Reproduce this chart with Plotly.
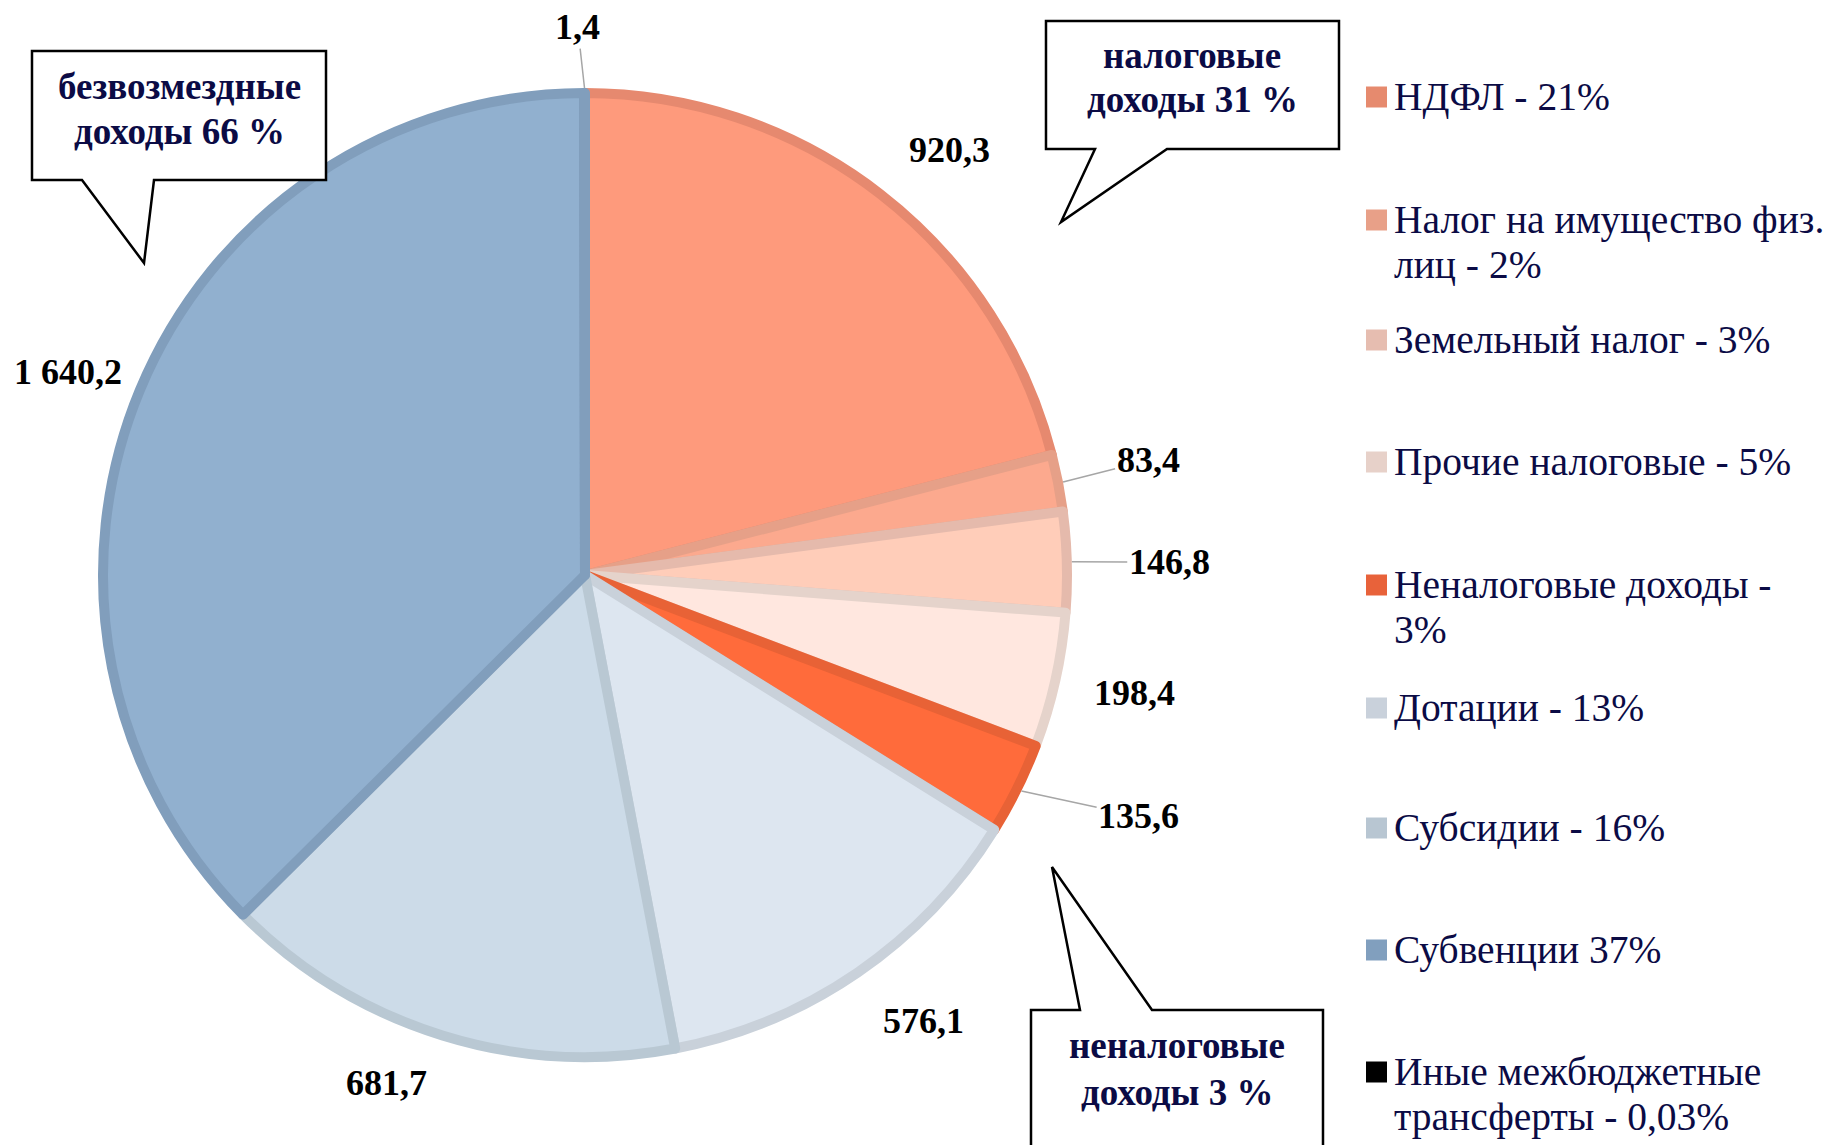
import math
import plotly.graph_objects as go

W, H = 1833, 1145
OFF = 8  # page body margin, pixels

# data
categories = ["НДФЛ", "Налог на имущество физ. лиц", "Земельный налог", "Прочие налоговые",
              "Неналоговые доходы", "Дотации", "Субсидии", "Субвенции",
              "Иные межбюджетные трансферты"]
values = [920.3, 83.4, 146.8, 198.4, 135.6, 576.1, 681.7, 1640.2, 1.4]
legend_labels = [["НДФЛ - 21%"], ["Налог на имущество физ.", "лиц - 2%"], ["Земельный налог - 3%"],
                 ["Прочие налоговые - 5%"], ["Неналоговые доходы -", "3%"], ["Дотации - 13%"],
                 ["Субсидии - 16%"], ["Субвенции 37%"], ["Иные межбюджетные", "трансферты - 0,03%"]]
callout_texts = [["безвозмездные", "доходы 66 %"], ["налоговые", "доходы 31 %"],
                 ["неналоговые", "доходы 3 %"]]

fill_colors = ["#FE9A7C", "#FCA98E", "#FFCDB9", "#FFE7DF", "#FF6B3B",
               "#DDE6F0", "#CCDBE8", "#91B0CF", "#000000"]
edge_colors = ["#E6896F", "#E6A088", "#E5BAAC", "#E5D3CB", "#E86236",
               "#C9D1DA", "#B9C8D3", "#819EBC", "#819EBC"]
legend_colors = ["#E68A6E", "#E8A088", "#E6BDB0", "#E7D1C9", "#E8623A",
                 "#C9D1DB", "#B8C6D2", "#819FBE", "#000000"]

# label styling: distance from centre (radii), angular nudge (deg), leader line
label_dist = [1.15, 1.18, 1.20, 1.155, 1.24, 1.15, 1.12, 1.14, 1.125]
label_shift = [2.8, -0.5, 0.3, -0.5, -2.8, -2.8, 4.1, -1.1, -0.7]
leader = [False, True, True, False, True, False, False, False, True]

TEXT_NAVY = "#0b0b45"
FONT = "Liberation Serif"


def px(x):
    return (x - OFF) / W


def py(y):
    return 1 - (y - OFF) / H


# pie placement (pixels, reference image coordinates)
cx, cy, R = 585, 575, 487
LINE_W = 10
Rd = R - LINE_W / 2

fig = go.Figure(go.Pie(
    labels=categories,
    values=values,
    sort=False,
    direction="clockwise",
    rotation=0,
    marker=dict(colors=fill_colors, line=dict(color=edge_colors, width=LINE_W)),
    textinfo="none",
    domain=dict(x=[px(cx - Rd), px(cx + Rd)], y=[py(cy + Rd), py(cy - Rd)]),
    showlegend=False,
    hoverinfo="label+value+percent",
))

# value labels placed around each slice's mid-angle
total = sum(values)
cum = 0.0
for v, k, sh, has_line in zip(values, label_dist, label_shift, leader):
    theta = 2 * math.pi * (cum + v / 2) / total
    cum += v
    t_lab = theta + math.radians(sh)
    lx, ly = cx + k * R * math.sin(t_lab), cy - k * R * math.cos(t_lab)
    txt = f"{v:,.1f}".replace(",", " ").replace(".", ",")
    font = dict(family=FONT, size=36, color="black", weight="bold")
    if has_line:
        ex, ey = cx + R * math.sin(theta), cy - R * math.cos(theta)
        fig.add_annotation(x=px(ex), y=py(ey), xref="paper", yref="paper",
                           ax=lx - ex, ay=ly - ey, text=txt, font=font,
                           showarrow=True, arrowhead=0, arrowwidth=1.5,
                           arrowcolor="#A6A6A6", standoff=0)
    else:
        fig.add_annotation(x=px(lx), y=py(ly), xref="paper", yref="paper",
                           xanchor="center", yanchor="middle",
                           text=txt, font=font, showarrow=False)

# custom legend
legend_y = [97, 220, 340, 462, 585, 708, 828, 950, 1072]
LINE_GAP = 45
for lines, col, yc in zip(legend_labels, legend_colors, legend_y):
    fig.add_shape(type="rect", xref="paper", yref="paper",
                  x0=px(1366), x1=px(1387), y0=py(yc - 10.5), y1=py(yc + 10.5),
                  fillcolor=col, line_width=0)
    for i, line in enumerate(lines):
        fig.add_annotation(x=px(1393), y=py(yc + i * LINE_GAP), xref="paper", yref="paper",
                           xanchor="left", yanchor="middle", align="left", showarrow=False,
                           text=line, borderpad=0,
                           font=dict(family=FONT, size=39.5, color=TEXT_NAVY))

# speech-bubble callouts
bubbles = [
    [(32, 51), (326, 51), (326, 180), (154, 180), (144, 263), (82, 180), (32, 180)],
    [(1046, 21), (1339, 21), (1339, 149), (1167, 149), (1061, 222), (1095, 149), (1046, 149)],
    [(1031, 1160), (1031, 1010), (1080, 1010), (1052, 867), (1152, 1010), (1323, 1010), (1323, 1160)],
]
text_pos = [(179, 86, 45), (1192, 56, 43), (1177, 1045, 47)]
for pts, lines, (tx, ty, gap) in zip(bubbles, callout_texts, text_pos):
    path = "M " + " L ".join(f"{px(x):.5f},{py(y):.5f}" for x, y in pts) + " Z"
    fig.add_shape(type="path", xref="paper", yref="paper", path=path,
                  fillcolor="white", line=dict(color="black", width=2.5))
    for i, line in enumerate(lines):
        fig.add_annotation(x=px(tx), y=py(ty + i * gap), xref="paper", yref="paper",
                           xanchor="center", yanchor="middle",
                           showarrow=False, text=line, align="center",
                           font=dict(family=FONT, size=37, color=TEXT_NAVY, weight="bold"))

fig.update_layout(
    width=W, height=H,
    margin=dict(l=0, r=0, t=0, b=0),
    paper_bgcolor="white",
    plot_bgcolor="white",
    font=dict(family=FONT),
)

fig.write_html("out.html")
